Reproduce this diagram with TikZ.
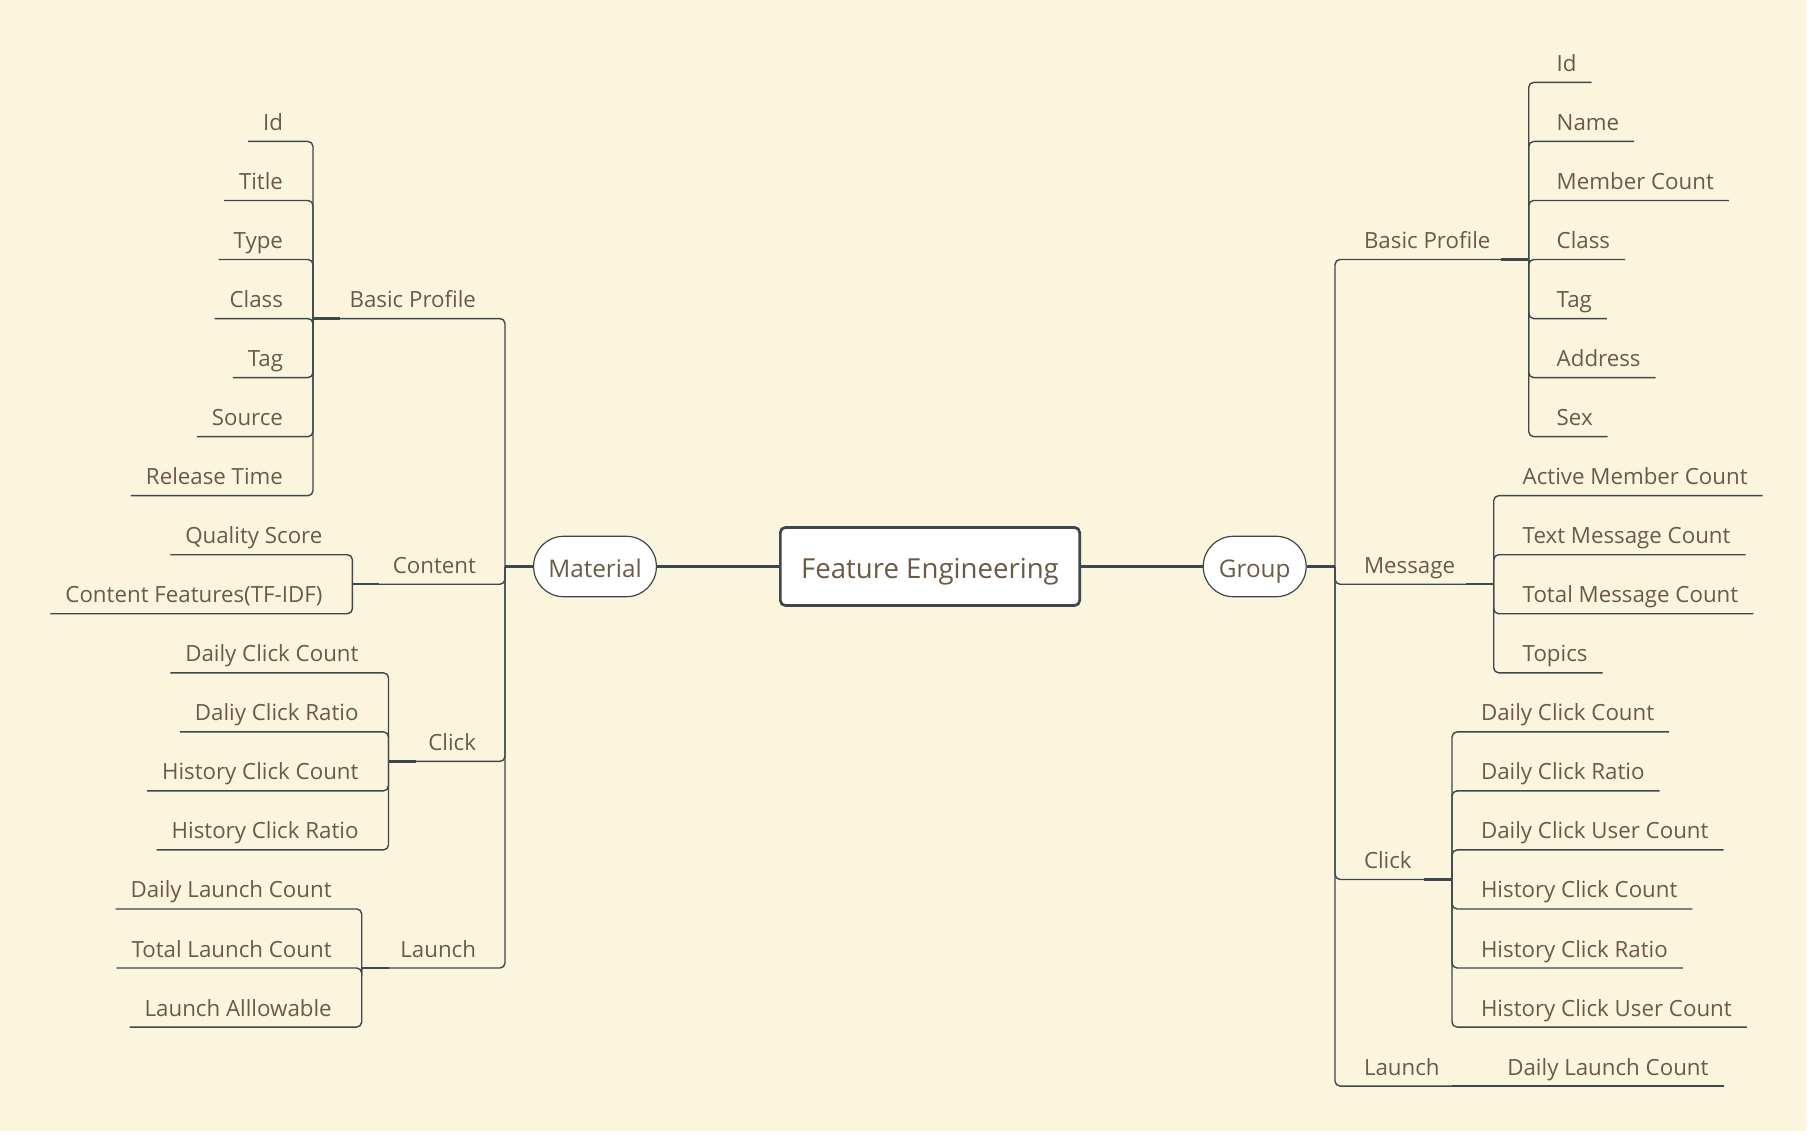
\documentclass[tikz,border=0pt]{standalone}
\usepackage{fontspec}
\setmainfont{Open Sans}
\usetikzlibrary{calc}
\definecolor{bg}{RGB}{251,245,222}
\definecolor{ink}{RGB}{108,89,70}
\definecolor{edge}{RGB}{62,70,78}
\tikzset{
  lf/.style={font=\fontsize{22.3}{26}\selectfont, text=ink, inner sep=0pt, outer sep=0pt},
  ln/.style={draw=edge, line width=1.4pt, rounded corners=5pt},
  stub/.style={draw=edge, line width=2.4pt},
  hub/.style={draw=edge, line width=2.8pt},
  rootbox/.style={draw=edge, line width=2.7pt, fill=white, rounded corners=5pt,
    minimum width=299.3pt, minimum height=78pt, inner sep=0pt,
    text height=24pt, text depth=0pt, text=ink, font=\fontsize{27.6}{32}\selectfont},
  topic/.style={draw=edge, line width=1.2pt, fill=white, rounded corners=30pt,
    minimum height=60.4pt, inner sep=0pt, text height=21.6pt, text depth=0pt,
    text=ink, font=\fontsize{24.3}{28}\selectfont}
}
\newcommand{\lleaves}[4]{%
  \foreach \txt/\row [count=\i] in {#4} {
    \node[lf, anchor=base east] (#1\i) at (#3,{82.4+59.04*\row-11}) {\txt};
    \draw[ln] (#2) |- ($(#1\i.base west)+(-15,11)$);
  }}
\newcommand{\rleaves}[4]{%
  \foreach \txt/\row [count=\i] in {#4} {
    \node[lf, anchor=base west] (#1\i) at (#3,{82.4+59.04*\row-11}) {\txt};
    \draw[ln] (#2) |- ($(#1\i.base east)+(15,11)$);
  }}
\begin{document}
\begin{tikzpicture}[x=1pt,y=-1pt]
\useasboundingbox (0,0) rectangle (1818,1138);
\fill[white] (0,0) rectangle (1818,1138);
\fill[bg] (0,0) rectangle (1806,1131);

% central and main topics
\node[rootbox] (root) at (930,566.5) {Feature Engineering};
\node[topic, minimum width=122.8pt] (material) at (595,566.5) {Material};
\node[topic, minimum width=102.9pt] (group) at (1254.7,566.5) {Group};
\draw[hub] (material.east) -- (root.west);
\draw[hub] (root.east) -- (group.west);

% ---------- left: Material ----------
\coordinate (mjL) at (505,566.5);
\draw[stub] (material.west) -- (mjL);

\coordinate (lbpv) at (313,318.56);
\coordinate (lctv) at (352.4,584.24);
\coordinate (lclv) at (388.5,761.36);
\coordinate (llav) at (361.7,968);
\node[lf, anchor=base east] (lbp) at (476,307.56) {Basic Profile};
\node[lf, anchor=base east] (lct) at (476,573.24) {Content};
\node[lf, anchor=base east] (lcl) at (476,750.36) {Click};
\node[lf, anchor=base east] (lla) at (476,957) {Launch};
\foreach \v in {lbpv,lctv,lclv,llav} {
  \draw[ln] (mjL) |- (\v);
  \draw[stub] (\v) -- ++(27,0);
}

\lleaves{lbpx}{lbpv}{283}{Id/1,Title/2,Type/3,Class/4,Tag/5,Source/6,Release Time/7}
\lleaves{lctx}{lctv}{322.4}{Quality Score/8,Content Features(TF-IDF)/9}
\lleaves{lclx}{lclv}{358.5}{Daily Click Count/10,Daliy Click Ratio/11,History Click Count/12,History Click Ratio/13}
\lleaves{llax}{llav}{331.7}{Daily Launch Count/14,Total Launch Count/15,Launch Alllowable/16}

% ---------- right: Group ----------
\coordinate (mjR) at (1335,566.5);
\draw[stub] (group.east) -- (mjR);

\coordinate (rbpv) at (1528.7,259.52);
\coordinate (rmsv) at (1493.7,584.24);
\coordinate (rclv) at (1452,879.44);
\coordinate (rlav) at (1452,1086.08);
\node[lf, anchor=base west] (rbp) at (1364,248.52) {Basic Profile};
\node[lf, anchor=base west] (rms) at (1364,573.24) {Message};
\node[lf, anchor=base west] (rcl) at (1364,868.44) {Click};
\node[lf, anchor=base west] (rla) at (1364,1075.08) {Launch};
\foreach \v in {rbpv,rmsv,rclv,rlav} {
  \draw[ln] (mjR) |- (\v);
}
\foreach \v in {rbpv,rmsv,rclv} {
  \draw[stub] (\v) -- ++(-28,0);
}

\rleaves{rbpx}{rbpv}{1556.7}{Id/0,Name/1,Member Count/2,Class/3,Tag/4,Address/5,Sex/6}
\rleaves{rmsx}{rmsv}{1522.7}{Active Member Count/7,Text Message Count/8,Total Message Count/9,Topics/10}
\rleaves{rclx}{rclv}{1481}{Daily Click Count/11,Daily Click Ratio/12,Daily Click User Count/13,History Click Count/14,History Click Ratio/15,History Click User Count/16}
\node[lf, anchor=base west] (rlax1) at (1507.3,1075.08) {Daily Launch Count};
\draw[ln] (rlav) -- (rlav -| {$(rlax1.base east)+(15,0)$});
\end{tikzpicture}
\end{document}
